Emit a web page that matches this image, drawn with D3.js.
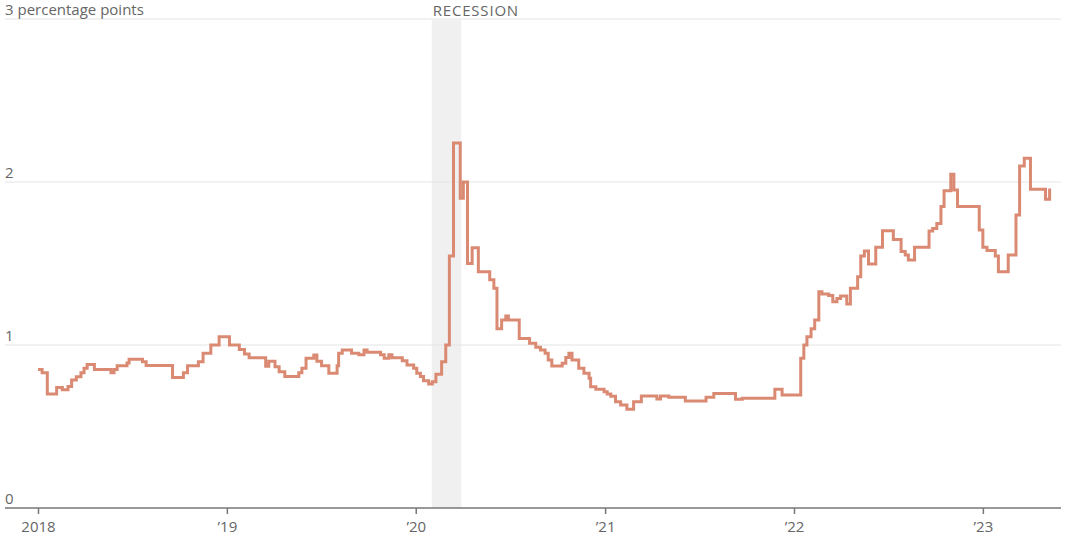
<!DOCTYPE html>
<html>
<head>
<meta charset="utf-8">
<script src="https://cdn.jsdelivr.net/npm/d3@7"></script>
<style>
  html, body { margin: 0; padding: 0; background: #fff; }
  svg text { font-family: "Open Sans", "Liberation Sans", sans-serif; }
</style>
</head>
<body>
<svg id="chart" width="1071" height="540"></svg>
<script>
// Spread, in percentage points, stepped by date
const dates = [
  "2018-01-01","2018-01-09","2018-01-19","2018-02-06","2018-02-17","2018-02-28","2018-03-07","2018-03-16",
  "2018-03-25","2018-03-31","2018-04-06","2018-04-20","2018-05-22","2018-05-28","2018-06-03","2018-06-22",
  "2018-06-26","2018-07-22","2018-07-29","2018-09-18","2018-10-09","2018-10-17","2018-11-07","2018-11-16",
  "2018-12-01","2018-12-17","2019-01-06","2019-01-25","2019-02-04","2019-02-13","2019-03-17","2019-03-23",
  "2019-04-04","2019-04-12","2019-04-23","2019-05-20","2019-05-26","2019-06-03","2019-06-18","2019-06-24",
  "2019-07-03","2019-07-17","2019-08-02","2019-08-05","2019-08-12","2019-08-30","2019-09-13","2019-09-23",
  "2019-09-29","2019-10-25","2019-11-01","2019-11-10","2019-11-16","2019-12-06","2019-12-15","2019-12-28",
  "2020-01-03","2020-01-10","2020-01-16","2020-01-26","2020-02-02","2020-02-09","2020-02-20","2020-02-28",
  "2020-03-06","2020-03-14","2020-03-27","2020-04-02","2020-04-10","2020-04-19","2020-05-01","2020-05-23",
  "2020-05-31","2020-06-06","2020-06-15","2020-06-23","2020-06-28","2020-07-19","2020-08-08","2020-08-20",
  "2020-08-29","2020-09-07","2020-09-13","2020-09-20","2020-10-10","2020-10-17","2020-10-23","2020-10-29",
  "2020-11-11","2020-11-21","2020-12-01","2020-12-04","2020-12-14","2020-12-30","2021-01-05","2021-01-12",
  "2021-01-21","2021-01-31","2021-02-12","2021-02-25","2021-03-12","2021-04-11","2021-04-18","2021-05-04",
  "2021-06-05","2021-07-15","2021-07-30","2021-09-10","2021-09-23","2021-11-25","2021-12-09","2022-01-14",
  "2022-01-20","2022-01-26","2022-02-03","2022-02-10","2022-02-18","2022-02-24","2022-03-09","2022-03-17",
  "2022-03-25","2022-04-01","2022-04-13","2022-04-20","2022-05-04","2022-05-10","2022-05-17","2022-05-25",
  "2022-06-08","2022-06-21","2022-07-12","2022-07-27","2022-08-04","2022-08-10","2022-08-22","2022-09-19",
  "2022-09-26","2022-10-04","2022-10-12","2022-10-18","2022-10-31","2022-11-06","2022-11-13","2022-12-25",
  "2023-01-01","2023-01-09","2023-01-25","2023-01-31","2023-02-19","2023-03-06","2023-03-13","2023-03-22",
  "2023-04-03","2023-05-02","2023-05-10","2023-05-13"
];
const values = [
  0.85,0.83,0.70,0.74,0.725,0.745,0.785,0.805,
  0.83,0.857,0.88,0.85,0.83,0.85,0.873,0.89,
  0.912,0.898,0.875,0.80,0.83,0.873,0.898,0.95,
  1.0,1.05,1.0,0.973,0.945,0.922,0.87,0.90,
  0.867,0.836,0.806,0.83,0.857,0.918,0.939,0.90,
  0.873,0.826,0.873,0.95,0.97,0.95,0.94,0.97,
  0.955,0.94,0.918,0.94,0.922,0.904,0.877,0.857,
  0.826,0.806,0.78,0.761,0.775,0.82,0.898,1.0,
  1.546,2.24,1.90,2.0,1.50,1.597,1.45,1.40,
  1.348,1.10,1.153,1.178,1.153,1.04,1.01,0.986,
  0.97,0.95,0.908,0.871,0.888,0.924,0.95,0.908,
  0.857,0.826,0.796,0.744,0.728,0.713,0.70,0.685,
  0.652,0.632,0.606,0.652,0.687,0.669,0.687,0.679,
  0.656,0.679,0.703,0.667,0.673,0.728,0.693,0.918,
  1.0,1.05,1.10,1.153,1.327,1.313,1.303,1.266,
  1.286,1.30,1.252,1.348,1.419,1.546,1.577,1.497,
  1.599,1.701,1.648,1.573,1.552,1.521,1.599,1.70,
  1.715,1.746,1.849,1.947,2.047,1.951,1.849,1.706,
  1.599,1.579,1.546,1.45,1.552,1.798,2.098,2.145,
  1.955,1.894,1.951,1.951
];

const recession = ["2020-02-01", "2020-03-29"];
const yTicks = [0, 1, 2, 3];
const xTickYears = [2018, 2019, 2020, 2021, 2022, 2023];
const xTickLabels = ["2018", "\u201919", "\u201920", "\u201921", "\u201922", "\u201923"];
const axisUnit = "percentage points";

const parse = d3.utcParse("%Y-%m-%d");
const series = dates.map((d, i) => ({ date: parse(d), value: values[i] }));

const svg = d3.select("#chart");
const left = 5, right = 1061;

const x = d3.scaleUtc()
  .domain([Date.UTC(2018, 0, 1), Date.UTC(2023, 5, 1)])
  .range([38, 1061]);
const y = d3.scaleLinear().domain([0, 3]).range([508, 19]);

// recession shading
svg.append("rect")
  .attr("x", x(parse(recession[0])))
  .attr("y", y(3) + 1)
  .attr("width", x(parse(recession[1])) - x(parse(recession[0])))
  .attr("height", y(0) - y(3) - 1)
  .attr("fill", "#f0f0f0");

svg.append("text")
  .attr("x", x(parse(recession[0])) + 1)
  .attr("y", 16)
  .attr("font-size", 15)
  .attr("letter-spacing", 0.8)
  .attr("fill", "#666")
  .text("RECESSION");

// horizontal gridlines
svg.append("g")
  .selectAll("line")
  .data(yTicks.filter(v => v > 0))
  .join("line")
  .attr("x1", left).attr("x2", right)
  .attr("y1", d => y(d)).attr("y2", d => y(d))
  .attr("stroke", "#e4e4e4")
  .attr("stroke-width", 1);

// y labels sitting above their gridlines
svg.append("g")
  .selectAll("text")
  .data(yTicks)
  .join("text")
  .attr("x", left)
  .attr("y", d => y(d) - 4)
  .attr("font-size", 15)
  .attr("fill", "#666")
  .text(d => d === 3 ? d + " " + axisUnit : d);

// x axis
const xAxis = d3.axisBottom(x)
  .tickValues(xTickYears.map(yr => new Date(Date.UTC(yr, 0, 1))))
  .tickFormat((d, i) => xTickLabels[i])
  .tickSize(6)
  .tickPadding(7)
  .tickSizeOuter(0);

const gx = svg.append("g")
  .attr("transform", `translate(0,${y(0)})`)
  .call(xAxis);
gx.select(".domain").remove();
gx.selectAll(".tick line").attr("stroke", "#777").attr("stroke-width", 1.5);
gx.selectAll(".tick text")
  .attr("font-size", 15)
  .attr("fill", "#666")
  .attr("font-family", "'Open Sans', sans-serif");

svg.append("line")
  .attr("x1", left).attr("x2", right)
  .attr("y1", y(0)).attr("y2", y(0))
  .attr("stroke", "#777")
  .attr("stroke-width", 1.6);

// stepped series line
const line = d3.line()
  .x(d => x(d.date))
  .y(d => y(d.value))
  .curve(d3.curveStepAfter);

svg.append("path")
  .datum(series)
  .attr("d", line)
  .attr("fill", "none")
  .attr("stroke", "#da8a72")
  .attr("stroke-width", 3)
  .attr("stroke-linejoin", "miter");
</script>
</body>
</html>
